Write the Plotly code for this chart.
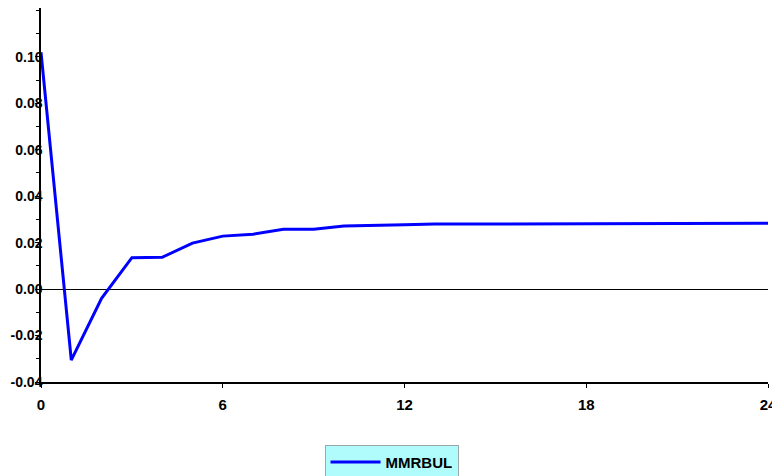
import plotly.graph_objects as go

# impulse response, periods 0..24
periods = list(range(25))
mmrbul = [0.102, -0.0306, -0.004, 0.0135, 0.0137, 0.0198, 0.0228, 0.0236, 0.0258, 0.0258,
          0.0272, 0.0273, 0.0277, 0.0280, 0.0280, 0.0283, 0.0283, 0.0283, 0.0283, 0.0283,
          0.0283, 0.0283, 0.0283, 0.0283, 0.0283]

x_ticks = [0, 6, 12, 18, 24]
y_ticks = [-0.04, -0.02, 0.00, 0.02, 0.04, 0.06, 0.08, 0.10]
# plain hyphen minus like the original, not plotly's unicode minus
y_tick_labels = ["-0.04", "-0.02", "0.00", "0.02", "0.04", "0.06", "0.08", "0.10"]

fig = go.Figure()
fig.add_trace(go.Scatter(x=periods, y=mmrbul, mode="lines", name="MMRBUL",
                         line=dict(color="#0000ff", width=3)))

tick_font = dict(family="Liberation Sans", size=15, color="black", weight="bold")

# page body has an 8px default margin, so the figure is a bit smaller
fig.update_layout(
    width=772, height=468,
    margin=dict(l=33, r=12, t=0, b=94, autoexpand=False),
    plot_bgcolor="white", paper_bgcolor="white",
    showlegend=True,
    legend=dict(orientation="h", x=0.39, xanchor="left", y=-0.168, yanchor="top",
                bgcolor="#b0fbfb", bordercolor="#9aa8a8", borderwidth=1,
                itemwidth=50,
                font=dict(family="Liberation Sans", size=15, color="black", weight="bold")),
    xaxis=dict(range=[0, 24], tickvals=x_ticks, showgrid=False, zeroline=False,
               showline=True, linecolor="black", linewidth=1.5, automargin=False,
               ticks="outside", ticklen=4, tickcolor="black", ticklabelstandoff=4,
               tickfont=tick_font),
    yaxis=dict(range=[-0.04, 0.121], tickvals=y_ticks, ticktext=y_tick_labels,
               showgrid=False, zeroline=True, zerolinecolor="black", zerolinewidth=1,
               showline=True, linecolor="black", linewidth=1.5, automargin=False,
               ticks="outside", ticklen=4, tickcolor="black", ticklabelstandoff=-10,
               minor=dict(dtick=0.01, ticks="outside", ticklen=3, tickcolor="black"),
               tickfont=dict(family="Liberation Sans", size=14, color="black", weight="bold")),
)

fig.write_html("out.html")
